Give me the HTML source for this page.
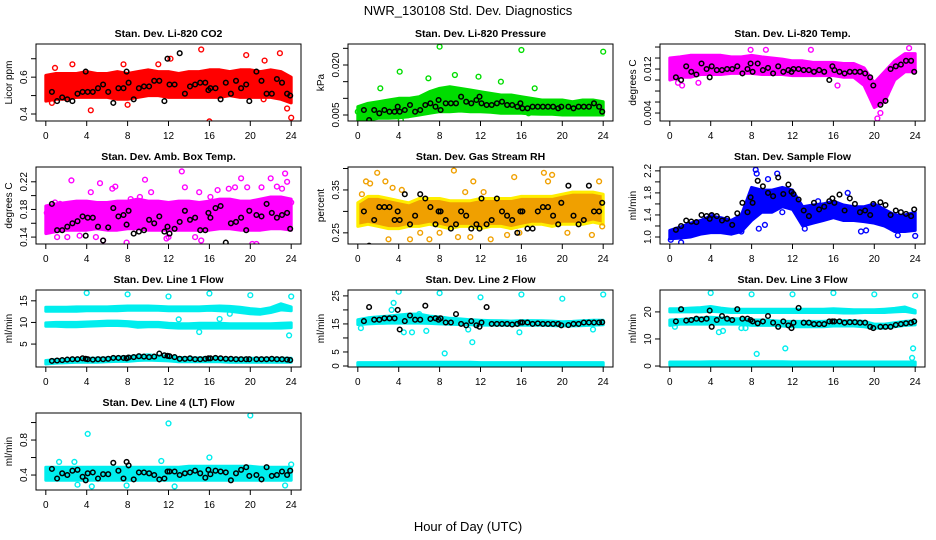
<!DOCTYPE html>
<html><head><meta charset="utf-8">
<style>
html,body{margin:0;padding:0;background:#fff;}
svg{display:block;font-family:"Liberation Sans",sans-serif;}
</style></head>
<body>
<svg id="chart" width="936" height="540" viewBox="0 0 936 540" xmlns="http://www.w3.org/2000/svg">
<rect width="936" height="540" fill="#fff"/>
<text x="468" y="15" text-anchor="middle" font-size="13">NWR_130108 Std. Dev. Diagnostics</text>
<text x="468" y="531" text-anchor="middle" font-size="13">Hour of Day (UTC)</text>
</svg>
<script>
// shared sample hours for black (hourly-average) points
const hours=[0.6,1.1,1.6,2.1,2.6,3.1,3.6,3.9,4.1,4.6,5.1,5.6,6.1,6.6,7.1,7.6,7.9,8.1,8.6,9.1,9.6,10.1,10.6,11.1,11.6,11.9,12.1,12.6,13.1,13.6,14.1,14.6,15.1,15.6,15.9,16.1,16.6,17.1,17.6,18.1,18.6,19.1,19.6,19.9,20.6,21.1,21.6,22.1,22.6,23.1,23.6,23.9];
const bandHours=[0,1,2,3,4,5,6,7,8,9,10,11,12,13,14,15,16,17,18,19,20,21,22,23,24];
const xTicks=[0,4,8,12,16,20,24];

// Panel 1: CO2
const co2Lo=[0.47,0.48,0.48,0.49,0.49,0.49,0.49,0.48,0.48,0.49,0.50,0.50,0.49,0.49,0.49,0.49,0.49,0.49,0.50,0.49,0.49,0.49,0.49,0.48,0.46];
const co2Hi=[0.61,0.62,0.62,0.62,0.63,0.62,0.62,0.63,0.62,0.63,0.64,0.63,0.63,0.62,0.63,0.63,0.64,0.64,0.63,0.64,0.64,0.63,0.64,0.63,0.60];
const co2OutX=[0.6,2.6,4.4,7.6,8,11,12.2,15.2,16,19.7,19.6,21.4,22.9,23.6,24,21.3,0.9,13.3];
const co2OutY=[0.46,0.67,0.42,0.67,0.45,0.67,0.70,0.75,0.36,0.83,0.72,0.69,0.73,0.43,0.38,0.48,0.65,0.50];
const co2Black=[0.52,0.47,0.49,0.48,0.47,0.51,0.52,0.63,0.52,0.52,0.54,0.56,0.52,0.46,0.54,0.54,0.63,0.57,0.48,0.54,0.55,0.55,0.58,0.58,0.47,0.70,0.56,0.56,0.73,0.51,0.55,0.56,0.57,0.57,0.53,0.54,0.54,0.48,0.57,0.51,0.58,0.54,0.56,0.47,0.63,0.58,0.51,0.51,0.59,0.57,0.51,0.50];

// Panel 2: Pressure
const presLo=[.0035,.0035,.004,.004,.0042,.0045,.005,.0055,.006,.006,.0062,.006,.006,.0058,.0055,.0055,.0055,.0053,.0052,.0052,.005,.005,.005,.005,.005];
const presHi=[.0075,.0085,.009,.0095,.010,.010,.0105,.012,.013,.0135,.013,.0125,.012,.0115,.011,.011,.0105,.010,.0095,.0095,.0095,.009,.0095,.0095,.009];
const presOutX=[0,4.1,4.2,8,9.5,11.8,14,16,17.3,24,2.2,6.9,16.7];
const presOutY=[0.006,0.018,0.0035,0.0255,0.017,0.0165,0.015,0.0245,0.013,0.024,0.013,0.016,0.0055];
const presBlack=[.0065,.0035,.0065,.0055,.0065,.006,.006,.0075,.006,.0065,.008,.006,.0065,.008,.0085,.0075,.0095,.0065,.0085,.0085,.0085,.0105,.009,.0085,.0095,.0105,.0085,.008,.008,.0085,.009,.008,.008,.0075,.0085,.007,.007,.0075,.0075,.0075,.0075,.0075,.007,.0075,.0075,.007,.0075,.0075,.0075,.0085,.0075,.006];

// Panel 3: Li-820 temp
const tempLo=[.0100,.0105,.0105,.0110,.0110,.0110,.0112,.0112,.0112,.0110,.0110,.0110,.0108,.0108,.0108,.0108,.0108,.0105,.0105,.0090,.0050,.0060,.0100,.0115,.0115];
const tempHi=[.0140,.0142,.0145,.0145,.0145,.0145,.0142,.0142,.0145,.0142,.0140,.0138,.0135,.0135,.0132,.0132,.0132,.0130,.0130,.0122,.0095,.0115,.0135,.0148,.0148];
const tempOutX=[0.8,1.2,2.8,13.8,9.4,23.4,16.4,20.3,20.6,21.2,7.9];
const tempOutY=[.0095,.009,.0095,.0155,.0155,.0158,.009,.003,.004,.0075,.0155];
const tempBlack=[.0105,.0100,.0125,.0115,.0110,.0130,.0120,.0105,.0125,.0118,.0118,.0120,.0120,.0125,.0112,.0120,.0130,.0115,.0130,.0118,.0122,.0112,.0125,.0115,.0118,.0115,.0120,.0120,.0118,.0118,.0115,.0118,.0115,.0100,.0125,.0118,.0115,.0112,.0115,.0115,.0115,.0112,.0105,.0090,.0055,.0062,.0120,.0125,.0128,.0135,.0135,.0115];

// Panel 4: Amb box temp
const ambLo=[.145,.148,.150,.150,.150,.152,.150,.150,.152,.152,.150,.150,.150,.150,.150,.150,.150,.152,.152,.150,.150,.150,.152,.152,.150];
const ambHi=[.185,.188,.190,.192,.192,.190,.190,.192,.192,.195,.192,.192,.190,.192,.192,.190,.192,.195,.195,.192,.192,.195,.198,.198,.195];
const ambOutX=[0.4,0.9,1.1,2.1,2.5,3.3,4.4,5.3,5.6,6.5,6.8,7.9,8.3,9.7,10.3,11.8,13.3,13.6,15.0,15.2,16.1,16.8,17.9,18.5,19.1,19.7,20.6,21.1,22.0,22.6,23.1,23.6,23.4,0.1,1.4,4.9,9.2,12.0,14.6,20.2,21.8,24.0];
const ambOutY=[.182,.190,.140,.140,.222,.142,.205,.218,.135,.210,.213,.132,.195,.223,.205,.138,.235,.212,.205,.135,.198,.208,.210,.212,.225,.212,.130,.212,.225,.213,.210,.220,.232,.175,.188,.140,.198,.140,.140,.130,.180,.190];
const ambBlack=[.188,.150,.150,.155,.160,.163,.170,.142,.168,.168,.155,.135,.154,.182,.170,.172,.158,.178,.145,.148,.150,.165,.160,.170,.148,.155,.145,.152,.162,.178,.165,.168,.150,.150,.175,.168,.182,.185,.132,.160,.162,.168,.150,.178,.172,.170,.188,.175,.168,.172,.175,.152];

// Panel 5: Gas stream RH
const rhLo=[.265,.27,.265,.26,.26,.265,.265,.27,.265,.26,.265,.265,.26,.265,.265,.26,.265,.27,.27,.265,.27,.27,.27,.275,.27];
const rhHi=[.32,.335,.335,.33,.325,.32,.33,.33,.33,.325,.325,.325,.33,.33,.33,.33,.335,.335,.335,.335,.34,.345,.345,.345,.34];
const rhOutX=[0.4,0.8,1.2,3,3.4,5.1,6.1,7,8,9.4,9.8,10.5,11,11.3,12.3,13,14.6,15.3,15.8,18.2,18.6,19,20.5,22.9,23.6,23.9,2.7,4.3,1.9];
const rhOutY=[.34,.37,.365,.235,.355,.235,.25,.235,.25,.395,.24,.345,.24,.37,.345,.235,.245,.38,.25,.39,.37,.385,.25,.245,.37,.265,.37,.35,.39];
const rhBlack=[.30,.22,.28,.31,.31,.31,.28,.30,.28,.34,.27,.29,.34,.33,.31,.27,.30,.30,.28,.26,.27,.30,.29,.26,.27,.26,.33,.27,.28,.33,.30,.29,.28,.25,.30,.30,.26,.26,.30,.31,.31,.29,.27,.32,.36,.29,.27,.28,.36,.30,.30,.32];

// Panel 6: Sample flow
const sfLo=[0.97,0.98,1.00,1.05,1.08,1.08,1.05,1.10,1.30,1.45,1.45,1.55,1.50,1.20,1.25,1.30,1.35,1.30,1.30,1.28,1.25,1.20,1.10,1.10,1.12];
const sfHi=[1.12,1.18,1.25,1.30,1.38,1.35,1.30,1.40,1.90,1.85,1.85,1.90,1.85,1.55,1.58,1.60,1.65,1.58,1.55,1.55,1.60,1.50,1.40,1.40,1.45];
const sfOutX=[0.1,1.1,8.4,8.5,8.7,9.6,10.5,9.3,11.0,13.2,17.4,18.7,19.2,22.3,24.0,14.5,7.0,4.0];
const sfOutY=[0.95,0.90,2.22,2.15,1.15,2.05,2.15,1.22,1.45,1.15,1.80,1.10,1.12,1.03,1.02,1.65,1.10,1.38];
const sfBlack=[1.13,1.20,1.30,1.28,1.27,1.40,1.38,1.33,1.40,1.38,1.30,1.33,1.22,1.43,1.62,1.45,1.72,1.62,2.02,1.92,1.80,1.74,2.08,1.78,1.95,1.82,1.78,1.68,1.48,1.38,1.62,1.50,1.55,1.65,1.70,1.62,1.77,1.48,1.70,1.60,1.45,1.48,1.40,1.60,1.63,1.58,1.40,1.48,1.45,1.42,1.38,1.50];

// Panel 7: Line 1 flow
const l1ALo=[12.6,12.6,12.6,12.6,12.7,12.7,12.7,12.7,12.8,12.8,12.8,12.8,12.7,12.7,12.7,12.7,12.8,12.7,12.6,12.3,12.0,11.9,12.3,12.9,12.7];
const l1AHi=[13.5,13.5,13.5,13.6,13.6,13.6,13.6,13.7,13.8,13.8,13.8,13.7,13.6,13.6,13.6,13.6,13.7,13.8,13.7,13.5,13.2,13.0,13.4,14.3,13.6];
const l1BLo=[9.1,9.1,9.0,9.0,9.1,9.2,9.3,9.3,9.2,8.9,9.0,9.0,8.8,8.7,8.7,8.7,8.7,8.7,8.7,8.7,8.7,8.7,8.7,8.7,8.8];
const l1BHi=[9.9,10.0,10.0,10.0,10.1,10.2,10.3,10.3,10.2,10.0,10.0,10.0,9.8,9.7,9.7,9.8,9.8,9.8,9.7,9.7,9.7,9.7,9.7,9.8,9.9];
const l1CLo=[0.4,0.6,0.7,0.8,0.8,0.8,0.9,1.0,1.0,1.2,1.3,1.2,1.1,0.9,0.9,0.9,0.9,0.9,0.8,0.8,0.8,0.8,0.8,0.8,0.8];
const l1CHi=[1.2,1.4,1.5,1.6,1.7,1.7,1.8,2.0,2.1,2.3,2.5,2.3,2.2,1.9,1.8,1.8,1.8,1.8,1.7,1.7,1.7,1.7,1.7,1.7,1.7];
const l1OutX=[4,8,12,16,20,24,23.8,17,15,13,18];
const l1OutY=[16.8,16.5,16,16.7,16.3,16,7,10.8,7.8,10.7,12];
const l1Black=[1.1,1.2,1.3,1.4,1.5,1.5,1.7,1.6,1.5,1.4,1.5,1.5,1.6,1.8,1.8,1.8,1.7,1.9,2.0,2.2,2.1,2.0,2.1,2.8,2.4,2.3,2.2,2.0,1.6,1.6,1.7,1.5,1.5,1.6,1.7,1.7,1.8,1.7,1.6,1.6,1.5,1.5,1.5,1.5,1.5,1.5,1.5,1.6,1.5,1.5,1.4,1.3];

// Panel 8: Line 2 flow
const l2ALo=[14.8,15.0,15.2,15.3,15.3,15.3,15.3,15.2,15.0,14.9,14.8,14.7,14.6,14.6,14.5,14.5,14.6,14.5,14.5,14.4,14.3,14.3,14.4,14.6,14.7];
const l2AHi=[16.5,17.2,17.5,17.8,18.2,18.5,18.5,17.8,17.5,17.0,16.8,16.5,16.3,16.2,16.1,16.0,16.2,16.2,16.1,16.0,15.8,15.9,16.1,16.3,16.3];
const l2BLo=[0.2,0.2,0.2,0.2,0.2,0.2,0.2,0.2,0.2,0.2,0.2,0.2,0.2,0.2,0.2,0.2,0.2,0.2,0.2,0.2,0.2,0.2,0.2,0.2,0.2];
const l2BHi=[1.2,1.2,1.2,1.2,1.3,1.3,1.3,1.3,1.3,1.3,1.3,1.3,1.2,1.2,1.2,1.2,1.2,1.2,1.2,1.2,1.2,1.2,1.2,1.2,1.2];
const l2OutX=[0.3,3.5,3.3,4,8,12,16,20,24,4.5,5.3,6.7,8.5,11.2,10.8,15.8,23,3.8,6];
const l2OutY=[13.5,22.5,20,26.5,26,24.5,25.5,24,25.5,12,12,12.5,4.5,8.5,13,12,13,17.5,18.5];
const l2Black=[16,21,16.5,16.5,17,17,17,20,13,16,18,16.5,16.5,21.5,16.8,17,16.5,17,15.5,15.5,18.5,15,14.5,16,14.5,14,15.5,21,15,15,15,15,14.8,15,15.5,15.5,15.5,15,15.2,15,15,15,15,14.5,14.6,15,15,15.5,15.5,15.5,15.5,15.6];

// Panel 9: Line 3 flow
const l3ALo=[20.0,20.0,20.0,20.0,20.2,20.0,19.8,19.8,19.8,19.8,19.8,19.8,19.8,19.8,19.8,19.8,19.8,19.6,19.6,19.8,19.8,19.8,20.0,20.2,19.6];
const l3AHi=[21.2,21.2,21.4,21.6,22.0,21.4,21.0,21.0,21.0,21.0,21.0,21.0,21.0,21.0,21.0,21.0,21.2,21.0,20.8,20.8,20.8,21.0,21.3,21.8,20.5];
const l3BLo=[15.0,15.5,15.5,15.5,15.5,15.5,15.5,15.5,15.0,15.0,15.0,14.8,14.5,14.5,14.5,14.5,14.8,14.8,14.8,14.5,14.0,14.0,14.5,15.0,15.2];
const l3BHi=[17.0,17.2,17.5,17.8,18.0,17.8,17.5,17.5,17.0,17.0,16.8,16.5,16.5,16.5,16.5,16.5,16.8,16.8,16.8,16.5,15.5,15.5,16.0,16.5,16.8];
const l3CLo=[0.3,0.3,0.3,0.3,0.3,0.3,0.3,0.3,0.3,0.3,0.3,0.3,0.3,0.3,0.3,0.3,0.3,0.3,0.3,0.3,0.3,0.3,0.3,0.3,0.3];
const l3CHi=[1.5,1.5,1.5,1.5,1.6,1.6,1.6,1.6,1.6,1.6,1.6,1.6,1.5,1.5,1.5,1.5,1.5,1.5,1.5,1.5,1.5,1.5,1.5,1.5,1.5];
const l3OutX=[4,8,12,16,20,24,4.8,5.2,7,7.4,8.5,11.3,23.8,23.7,0.5];
const l3OutY=[27,26.5,26.5,27,26.5,26,12.5,13,14,14,4.5,6.5,6.5,3,14.5];
const l3Black=[16.5,21,16.8,17,17.5,17.2,17.5,20.5,14.5,17,18.5,17.5,17,21,17.5,17.5,17,16.5,15.8,16.5,18.5,16,14.5,16.5,15,14,16,21.5,16,16,15.5,15.5,15.5,16.5,16.5,16.5,16.5,16,16.2,16.2,16,16,14.5,14,14.5,14.5,14.5,15.2,15.5,15.8,16,16.5];

// Panel 10: Line 4 flow
const l4Lo=[0.34,0.34,0.34,0.34,0.34,0.34,0.34,0.34,0.34,0.34,0.34,0.34,0.34,0.34,0.34,0.34,0.34,0.34,0.34,0.34,0.34,0.34,0.34,0.34,0.34];
const l4Hi=[0.49,0.49,0.49,0.49,0.49,0.49,0.49,0.49,0.49,0.49,0.49,0.49,0.49,0.49,0.50,0.50,0.50,0.50,0.50,0.50,0.50,0.49,0.49,0.49,0.49];
const l4OutX=[4.1,12,20,16,4.5,7.9,12.6,23.4,1.3,2.8,11.3,3.1,24];
const l4OutY=[0.87,0.99,1.08,0.60,0.27,0.28,0.27,0.28,0.55,0.55,0.56,0.29,0.52];
const l4Black=[0.47,0.36,0.42,0.40,0.45,0.46,0.38,0.34,0.42,0.43,0.36,0.41,0.41,0.54,0.45,0.36,0.55,0.51,0.35,0.43,0.43,0.42,0.40,0.35,0.36,0.44,0.44,0.44,0.40,0.42,0.43,0.45,0.42,0.37,0.46,0.41,0.45,0.44,0.43,0.34,0.42,0.46,0.49,0.39,0.40,0.35,0.49,0.39,0.40,0.44,0.40,0.45];

const panels=[
 {name:'co2',title:'Stan. Dev. Li-820 CO2',ylab:'Licor ppm',col:0,row:0,ymin:0.362,ymax:0.78,ticks:[0.4,0.5,0.6,0.7],labels:['0.4','','0.6',''],color:'#ff0000',bands:[[co2Lo,co2Hi]],ox:co2OutX,oy:co2OutY,black:co2Black},
 {name:'pressure',title:'Stan. Dev. Li-820 Pressure',ylab:'kPa',col:1,row:0,ymin:0.0032,ymax:0.0263,ticks:[0.005,0.01,0.015,0.02,0.025],labels:['0.005','','','0.020',''],color:'#00dd00',bands:[[presLo,presHi]],ox:presOutX,oy:presOutY,black:presBlack},
 {name:'li820-temp',title:'Stan. Dev. Li-820 Temp.',ylab:'degrees C',col:2,row:0,ymin:0.00255,ymax:0.01655,ticks:[0.004,0.006,0.008,0.010,0.012,0.014,0.016],labels:['0.004','','','','0.012','',''],color:'#ff00ff',bands:[[tempLo,tempHi]],ox:tempOutX,oy:tempOutY,black:tempBlack},
 {name:'amb-box-temp',title:'Stan. Dev. Amb. Box Temp.',ylab:'degrees C',col:0,row:1,ymin:0.13,ymax:0.2414,ticks:[0.14,0.16,0.18,0.20,0.22],labels:['0.14','','0.18','','0.22'],color:'#ff00ff',bands:[[ambLo,ambHi]],ox:ambOutX,oy:ambOutY,black:ambBlack},
 {name:'gas-rh',title:'Stan. Dev. Gas Stream RH',ylab:'percent',col:1,row:1,ymin:0.224,ymax:0.4035,ticks:[0.25,0.30,0.35,0.40],labels:['0.25','','0.35',''],color:'#f0a000',stroke2:'#ffee00',bands:[[rhLo,rhHi]],ox:rhOutX,oy:rhOutY,black:rhBlack},
 {name:'sample-flow',title:'Stan. Dev. Sample Flow',ylab:'ml/min',col:2,row:1,ymin:0.873,ymax:2.27,ticks:[1.0,1.2,1.4,1.6,1.8,2.0,2.2],labels:['1.0','','1.4','','1.8','','2.2'],color:'#0000ff',bands:[[sfLo,sfHi]],ox:sfOutX,oy:sfOutY,black:sfBlack},
 {name:'line1-flow',title:'Stan. Dev. Line 1 Flow',ylab:'ml/min',col:0,row:2,ymin:-0.3,ymax:17.5,ticks:[5,10,15],labels:['5','10','15'],color:'#00eeee',bands:[[l1ALo,l1AHi],[l1BLo,l1BHi],[l1CLo,l1CHi]],ox:l1OutX,oy:l1OutY,black:l1Black},
 {name:'line2-flow',title:'Stan. Dev. Line 2 Flow',ylab:'ml/min',col:1,row:2,ymin:-0.36,ymax:27.1,ticks:[0,5,10,15,20,25],labels:['0','5','','15','','25'],color:'#00eeee',bands:[[l2ALo,l2AHi],[l2BLo,l2BHi]],ox:l2OutX,oy:l2OutY,black:l2Black},
 {name:'line3-flow',title:'Stan. Dev. Line 3 Flow',ylab:'ml/min',col:2,row:2,ymin:-0.36,ymax:28.1,ticks:[0,10,20],labels:['0','10','20'],color:'#00eeee',bands:[[l3ALo,l3AHi],[l3BLo,l3BHi],[l3CLo,l3CHi]],ox:l3OutX,oy:l3OutY,black:l3Black},
 {name:'line4-flow',title:'Stan. Dev. Line 4 (LT) Flow',ylab:'ml/min',col:0,row:3,ymin:0.229,ymax:1.109,ticks:[0.4,0.6,0.8,1.0],labels:['0.4','','0.8',''],color:'#00eeee',bands:[[l4Lo,l4Hi]],ox:l4OutX,oy:l4OutY,black:l4Black}
];

const NS='http://www.w3.org/2000/svg';
const svg=document.getElementById('chart');
const colLeft=[36,348,660], rowTop=[44,167,290,413], W=265, H=77;
function mk(tag,attrs,parent){const e=document.createElementNS(NS,tag);for(const k in attrs)e.setAttribute(k,attrs[k]);parent.appendChild(e);return e;}

panels.forEach(p=>{
  const L=colLeft[p.col], T=rowTop[p.row];
  const g=mk('g',{},svg);
  
  
  const xs=h=>L+W*(h+0.96)/25.92;
  const ys=v=>T+H*(p.ymax-v)/(p.ymax-p.ymin);
  const clipId='clip-'+p.name;
  const cp=mk('clipPath',{id:clipId},g); mk('rect',{x:L,y:T,width:W,height:H},cp);
  const plot=mk('g',{'clip-path':'url(#'+clipId+')'},g);
  p.bands.forEach((b,bi)=>{
    const lo=b[0],hi=b[1];
    let pts=[];
    bandHours.forEach((h,i)=>pts.push(xs(h).toFixed(1)+','+ys(hi[i]).toFixed(1)));
    for(let i=bandHours.length-1;i>=0;i--)pts.push(xs(bandHours[i]).toFixed(1)+','+ys(lo[i]).toFixed(1));
    const poly=mk('polygon',{points:pts.join(' '),fill:p.color,stroke:p.stroke2||p.color,'stroke-width':3,'stroke-linejoin':'round'},plot);
    
    
  });
  p.ox.forEach((h,i)=>{
    const c=mk('circle',{cx:xs(h).toFixed(1),cy:ys(p.oy[i]).toFixed(1),r:2.4,fill:'none',stroke:p.color,'stroke-width':1.4},plot);
    
    
  });
  const n=Math.min(hours.length,p.black.length);
  for(let i=0;i<n;i++){
    const c=mk('circle',{cx:xs(hours[i]).toFixed(1),cy:ys(p.black[i]).toFixed(1),r:2.3,fill:'none',stroke:'#000','stroke-width':1.5},plot);
    
    
  }
  const box=mk('rect',{x:L,y:T,width:W,height:H,fill:'none',stroke:'#000','stroke-width':1},g);
  
  
  const t=mk('text',{x:L+W/2,y:T-7,'text-anchor':'middle','font-size':10.5,'font-weight':'bold'},g);
  t.textContent=p.title;
  
  
  mk('line',{x1:xs(0),x2:xs(24),y1:T+H,y2:T+H,stroke:'#000'},g);
  xTicks.forEach(v=>{
    mk('line',{x1:xs(v),x2:xs(v),y1:T+H,y2:T+H+5,stroke:'#000'},g);
    const lt=mk('text',{x:xs(v),y:T+H+18,'text-anchor':'middle','font-size':10},g);
    lt.textContent=v;
    
    
  });
  const yt0=ys(p.ticks[0]), yt1=ys(p.ticks[p.ticks.length-1]);
  mk('line',{x1:L,x2:L,y1:Math.min(yt0,T+H),y2:Math.max(yt1,T),stroke:'#000'},g);
  p.ticks.forEach((v,i)=>{
    const y=ys(v);
    mk('line',{x1:L-5,x2:L,y1:y,y2:y,stroke:'#000'},g);
    if(p.labels[i]){
      const lt=mk('text',{x:0,y:0,'text-anchor':'middle','font-size':10,transform:'translate('+(L-9)+','+y.toFixed(1)+') rotate(-90)'},g);
      lt.textContent=p.labels[i];
      
      
    }
  });
  const yl=mk('text',{x:0,y:0,'text-anchor':'middle','font-size':10,transform:'translate('+(L-24)+','+(T+H/2)+') rotate(-90)'},g);
  yl.textContent=p.ylab;
  
  
});
</script>
</body></html>
